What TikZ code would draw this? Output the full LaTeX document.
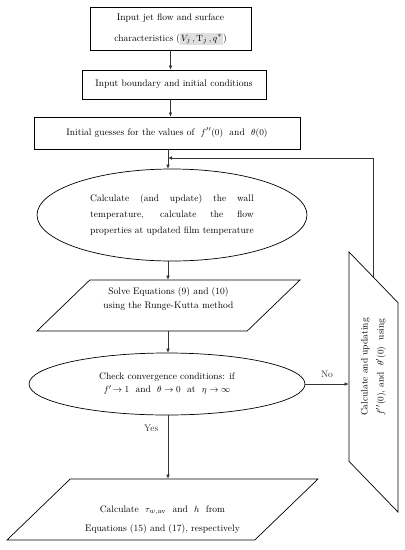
\documentclass[tikz,border=0pt]{standalone}
\usepackage{amsmath,amssymb}
\usepackage{xcolor}
\usepackage{tikz}
\usetikzlibrary{arrows.meta,calc,positioning,shapes.geometric}

% text of a slanted box, kept out of the shape's size (shift right, shift up, lines)
\newcommand{\sltext}[3]{\smash{\makebox[0pt][l]{\hspace*{#1}\makebox[0pt]{\raisebox{#2}{\begin{tabular}{@{}c@{}}#3\end{tabular}}}}}}

\begin{document}
\begin{tikzpicture}[x=1pt,y=-1pt,
  font=\fontsize{9.5}{12}\selectfont,
  box/.style={draw,line width=0.8pt,inner sep=0pt,align=center},
  oval/.style={draw,ellipse,line width=0.7pt,inner sep=0pt,align=center},
  slanted/.style 2 args={draw,trapezium,trapezium left angle=44,trapezium right angle=136,
    line width=0.7pt,inner xsep=#1,inner ysep=#2},
  arr/.style={black!80,line width=0.5pt,-{Latex[length=4pt,width=3.5pt]}}]
\useasboundingbox (0,0) rectangle (405,550);
% main column
\node[box,minimum width=161,minimum height=43] (input) at (170.5,28.5)
  {\raisebox{-3pt}{\begin{tabular}{@{}c@{}}Input jet flow and surface\\[9pt]characteristics
   ({\setlength{\fboxsep}{1pt}\colorbox{gray!25}{$V_j\,,\mathrm{T}_j\,,q^{*}$}})\end{tabular}}};
\node[box,minimum width=184,minimum height=29] (bound) at (174,84.5)
  {Input boundary and initial conditions};
\node[box,minimum width=266,minimum height=32] (guess) at (167,133)
  {Initial guesses for the values of \ $f''(0)$ \ and \ $\theta(0)$};
\node[oval,minimum width=270,minimum height=92] (calc) at (172,215)
  {\setbox0\hbox{properties at updated film temperature}%
   \begin{tabular}{@{}l@{}}
   \makebox[\wd0][s]{Calculate (and update) the wall}\\[4pt]
   \makebox[\wd0][s]{temperature, calculate the flow}\\[4pt]
   properties at updated film temperature
   \end{tabular}};
\node[slanted={78.7pt}{25.5pt}] (solve) at (168.5,305.5)
  {\sltext{0pt}{4pt}{Solve Equations (9) and (10)\\[2pt]using the Runge-Kutta method}};
\node[oval,minimum width=276,minimum height=62] (check) at (167,384)
  {Check convergence conditions: if\\[1pt]$f'\!\to1$ \ and \ $\theta\to0$ \ at \ $\eta\to\infty$};
\node[slanted={92.3pt}{30.5pt}] (result) at (162.5,509.5)
  {\sltext{0pt}{-12pt}{Calculate \ $\tau_{w,\mathrm{av}}$ \ and \ $h$ \ from\\[7pt]Equations (15) and (17), respectively}};
% update step on the right
\node[slanted={79.3pt}{24.5pt},rotate=90] (update) at (373.5,382)
  {\sltext{15pt}{-2pt}{Calculate and updating\\[4pt]$f''(0)$, and \ $\theta'(0)$ \ using}};
\coordinate (join) at (168,158);
\coordinate (back) at ($(update.top right corner)!0.5!(update.bottom right corner)$);
% connectors
\draw[arr] (input) -- (input |- bound.north);
\draw[arr] (input |- bound.south) -- (input |- guess.north);
\draw[arr] (guess.south -| join) -- (join |- calc.north);
\draw[arr] (calc.south -| join) -- (join |- solve.north);
\draw[arr] (solve.south -| join) -- (join |- check.north);
\draw[arr] (check.south -| join) -- node[left=6pt,pos=0.2]{Yes} (join |- result.north);
\draw[arr] (check.east) -- node[above=3pt]{No} (check.east -| update.north);
\draw[arr] (back) |- (join);
\end{tikzpicture}
\end{document}
